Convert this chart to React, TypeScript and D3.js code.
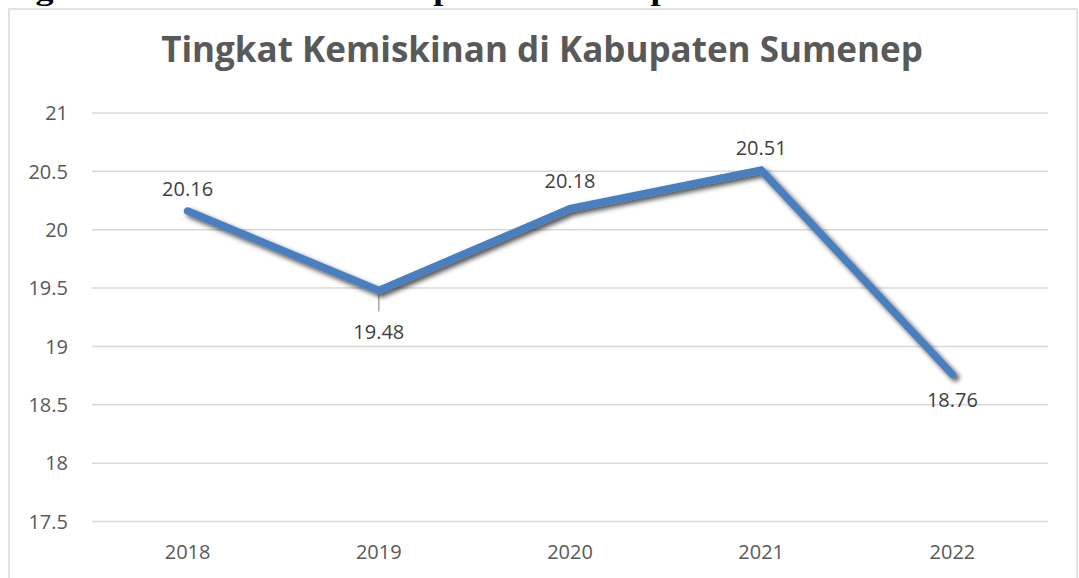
import React from "react";
import * as d3 from "d3";

const years = ["2018", "2019", "2020", "2021", "2022"];
const povertyRate = [20.16, 19.48, 20.18, 20.51, 18.76];
const yTicks = [17.5, 18, 18.5, 19, 19.5, 20, 20.5, 21];
const labelPlacement = ["above", "below", "above", "above", "below"];
const labelNudge = [0, 5, -6, 0, -11];

const W = 1079;
const H = 578;

export default function App() {
  const x = d3.scaleBand<string>().domain(years).range([92, 1048]);
  const y = d3.scaleLinear().domain([17.5, 21]).range([521.5, 113]);
  const cx = (d: string) => (x(d) as number) + x.bandwidth() / 2;

  const line = d3
    .line<number>()
    .x((_, i) => cx(years[i]))
    .y((v) => y(v));

  return (
    <svg
      width={W}
      height={H}
      style={{ position: "absolute", left: 0, top: 0, background: "#fff" }}
      fontFamily="'Open Sans', sans-serif"
    >
      <defs>
        <filter id="shadow" x="-10%" y="-10%" width="120%" height="130%">
          <feDropShadow dx="3" dy="3" stdDeviation="2.8" floodColor="#000" floodOpacity="0.7" />
        </filter>
      </defs>
      <rect x={0} y={0} width={W} height={H} fill="#fff" />
      <text
        x={-18}
        y={0}
        fontFamily="'Liberation Serif', serif"
        fontWeight="bold"
        fontSize={28}
        textLength={953}
        lengthAdjust="spacingAndGlyphs"
        fill="#000"
      >
        Tingkat Kemiskinan di Kabupaten Sumenep tahun 2018-2022
      </text>
      <rect x={9} y={9} width={1068} height={600} fill="none" stroke="#d9d9d9" strokeWidth={1.5} />
      <text
        x={542}
        y={62}
        textAnchor="middle"
        fontWeight="bold"
        fontSize={35}
        fill="#595959"
      >
        Tingkat Kemiskinan di Kabupaten Sumenep
      </text>
      {yTicks.map((t) => (
        <g key={t}>
          <line x1={92} x2={1048} y1={y(t)} y2={y(t)} stroke="#d9d9d9" strokeWidth={1.5} />
          <text x={68} y={y(t)} dy="0.36em" textAnchor="end" fontSize={20} fill="#595959">
            {t}
          </text>
        </g>
      ))}
      {years.map((yr) => (
        <text key={yr} x={cx(yr)} y={552} dy="0.36em" textAnchor="middle" fontSize={20} fill="#595959">
          {yr}
        </text>
      ))}
      <line
        x1={cx(years[1])}
        x2={cx(years[1])}
        y1={y(povertyRate[1]) + 2}
        y2={y(povertyRate[1]) + 21}
        stroke="#a6a6a6"
        strokeWidth={1.5}
      />
      <path
        d={line(povertyRate) || ""}
        fill="none"
        stroke="#4a7ebf"
        strokeWidth={7.5}
        strokeLinecap="round"
        strokeLinejoin="miter"
        filter="url(#shadow)"
      />
      {povertyRate.map((v, i) => {
        const base = labelPlacement[i] === "above" ? y(v) - 22 : y(v) + 36;
        return (
          <text
            key={i}
            x={cx(years[i])}
            y={base + labelNudge[i]}
            dy="0.36em"
            textAnchor="middle"
            fontSize={20}
            fill="#404040"
          >
            {v.toFixed(2)}
          </text>
        );
      })}
    </svg>
  );
}
